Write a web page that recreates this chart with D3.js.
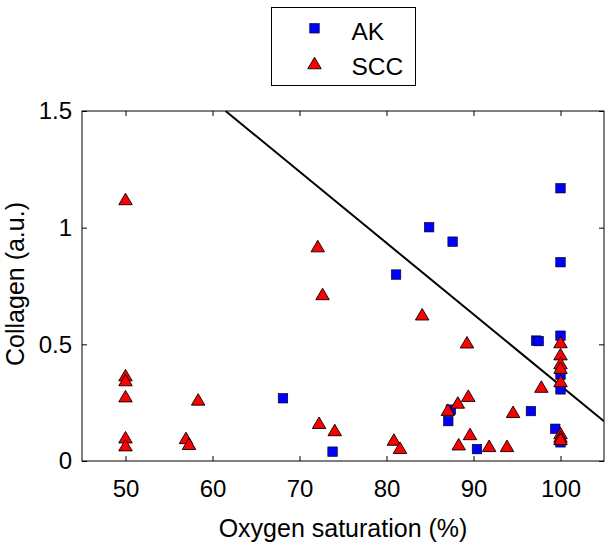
<!DOCTYPE html>
<html><head><meta charset="utf-8">
<script src="https://cdn.jsdelivr.net/npm/d3@7"></script>
<style>body{margin:0;background:#fff}svg{display:block}text{font-family:"Liberation Sans",Arial,sans-serif;fill:#000}</style>
</head><body><svg id="c" width="612" height="547"></svg>
<script>
const akX = [100, 84.9, 87.6, 100, 81.1, 97.2, 97.5, 100, 100, 100, 96.6, 87.1, 87.4, 99.4, 100, 90.4, 73.8, 68.1];
const akY = [1.169, 1.002, 0.94, 0.852, 0.799, 0.516, 0.514, 0.537, 0.37, 0.307, 0.214, 0.171, 0.22, 0.138, 0.08, 0.051, 0.04, 0.269];
const sccX = [50, 50, 50, 50, 50, 50, 58.35, 56.95, 57.3, 72.1, 72.65, 84.1, 89.25, 100, 100, 100, 100, 100, 97.8, 89.4, 88.2, 87.05, 94.55, 72.25, 74.05, 89.6, 100, 100, 100, 80.85, 81.55, 88.3, 91.8, 93.85];
const sccY = [1.123, 0.368, 0.347, 0.278, 0.102, 0.068, 0.264, 0.099, 0.074, 0.921, 0.716, 0.629, 0.509, 0.51, 0.458, 0.42, 0.40, 0.343, 0.319, 0.28, 0.251, 0.22, 0.211, 0.164, 0.133, 0.116, 0.12, 0.105, 0.095, 0.092, 0.057, 0.072, 0.065, 0.065];
const lineX = [61.5, 105];
const lineY = [1.5, 0.17];
const xTicks = [50, 60, 70, 80, 90, 100];
const yTicks = [0, 0.5, 1, 1.5];
const yTickLabels = ["0", "0.5", "1", "1.5"];
const seriesNames = ["AK", "SCC"];

const L = 82, R = 604, T = 111, B = 461;
const svg = d3.select("#c");
const x = d3.scaleLinear().domain([45, 105]).range([L, R]);
const y = d3.scaleLinear().domain([0, 1.5]).range([B, T]);

function triPath(w, h) { return `M0,${-h/2}L${w/2},${h/2}L${-w/2},${h/2}Z`; }

// axes with inward ticks
const gx = svg.append("g").attr("transform", `translate(0,${B})`)
  .call(d3.axisBottom(x).tickValues(xTicks).tickSizeInner(-5).tickSizeOuter(0).tickPadding(19).tickFormat(d3.format("d")));
const gxt = svg.append("g").attr("transform", `translate(0,${T})`)
  .call(d3.axisTop(x).tickValues(xTicks).tickSizeInner(-5).tickSizeOuter(0).tickFormat(""));
const gy = svg.append("g").attr("transform", `translate(${L},0)`)
  .call(d3.axisLeft(y).tickValues(yTicks).tickSizeInner(-5).tickSizeOuter(0).tickPadding(10).tickFormat((d,i)=>yTickLabels[i]));
const gyr = svg.append("g").attr("transform", `translate(${R},0)`)
  .call(d3.axisRight(y).tickValues(yTicks).tickSizeInner(-5).tickSizeOuter(0).tickFormat(""));
[gx,gxt,gy,gyr].forEach(g => {
  g.select(".domain").remove();
  g.selectAll("line").attr("stroke","#000").attr("stroke-width",1);
  g.selectAll("text").style("font-size","24px").attr("fill","#000").style("font-family",'"Liberation Sans",Arial,sans-serif');
});
gx.selectAll("text").attr("dy","0.71em");
svg.append("rect").attr("x",L).attr("y",T).attr("width",R-L).attr("height",B-T)
  .attr("fill","none").attr("stroke","#000").attr("stroke-width",1);

// clip
svg.append("clipPath").attr("id","clip").append("rect").attr("x",L).attr("y",T).attr("width",R-L).attr("height",B-T);

// line
svg.append("line").attr("clip-path","url(#clip)")
  .attr("x1", x(lineX[0])).attr("y1", y(lineY[0])).attr("x2", x(lineX[1])).attr("y2", y(lineY[1]))
  .attr("stroke","#000").attr("stroke-width",2);

// AK squares
const sq = 9.5;
svg.append("g").selectAll("rect").data(akX.map((v,i)=>[v,akY[i]])).join("rect")
  .attr("x", d=>x(d[0])-sq/2).attr("y", d=>y(d[1])-sq/2).attr("width",sq).attr("height",sq)
  .attr("fill","#0000ff").attr("stroke","#000").attr("stroke-width",0.6);

// SCC triangles
svg.append("g").selectAll("path").data(sccX.map((v,i)=>[v,sccY[i]])).join("path")
  .attr("transform", d=>`translate(${x(d[0])},${y(d[1])})`)
  .attr("d", triPath(13.5, 11.5))
  .attr("fill","#ff0000").attr("stroke","#000").attr("stroke-width",0.9);

// axis titles
svg.append("text").attr("x",(L+R)/2).attr("y",536.5).attr("text-anchor","middle")
  .style("font-size","25px").text("Oxygen saturation (%)");
svg.append("text").attr("transform",`translate(23.5,284) rotate(-90)`).attr("text-anchor","middle")
  .style("font-size","25px").text("Collagen (a.u.)");

// legend
const lg = svg.append("g");
lg.append("rect").attr("x",271.5).attr("y",7.5).attr("width",144).attr("height",78)
  .attr("fill","#fff").attr("stroke","#000").attr("stroke-width",1);
lg.append("rect").attr("x",314.5-sq/2).attr("y",28.3-sq/2).attr("width",sq).attr("height",sq)
  .attr("fill","#0000ff").attr("stroke","#000").attr("stroke-width",0.6);
lg.append("path").attr("transform","translate(314.5,63)").attr("d",triPath(13.5,11.5))
  .attr("fill","#ff0000").attr("stroke","#000").attr("stroke-width",0.9);
lg.append("text").attr("x",351.5).attr("y",40).style("font-size","24.5px").text(seriesNames[0]);
lg.append("text").attr("x",351.5).attr("y",75).style("font-size","24.5px").text(seriesNames[1]);
</script></body></html>
